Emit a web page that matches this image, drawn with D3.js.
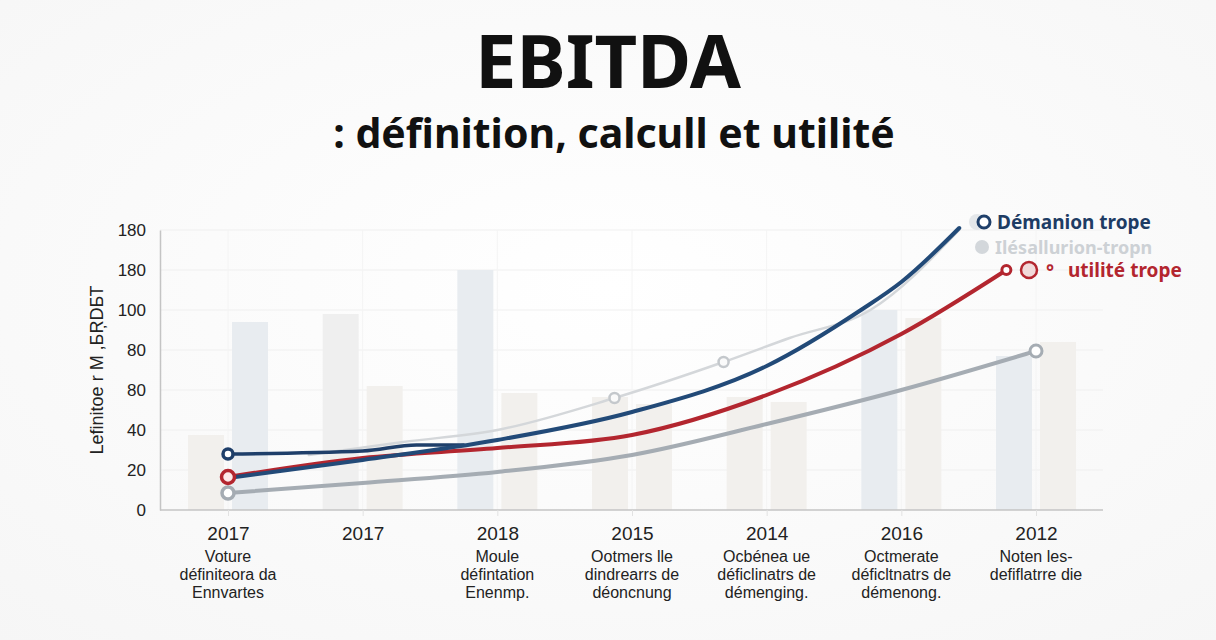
<!DOCTYPE html>
<html>
<head>
<meta charset="utf-8">
<script src="https://cdn.jsdelivr.net/npm/d3@7"></script>
<style>
  html, body { margin: 0; padding: 0; background: #fbfbfb; }
  svg { display: block; }
</style>
</head>
<body>
<script>
// categories along the bottom (index based, some years repeat)
const years = ["2017", "2017", "2018", "2015", "2014", "2016", "2012"];
const notes = [
  ["Voture", "définiteora da", "Ennvartes"],
  [],
  ["Moule", "défintation", "Enenmp."],
  ["Ootmers lle", "dindrearrs de", "déoncnung"],
  ["Ocbénea ue", "déficlinatrs de", "démenging."],
  ["Octmerate", "déficltnatrs de", "démenong."],
  ["Noten les-", "defiflatrre die"]
];

// y ticks as printed on the picture
const yTicks = [0, 20, 40, 60, 80, 100, 120, 140];
const yTickLabels = ["0", "20", "40", "80", "80", "100", "180", "180"];

// faint background bars, two per category
const barLeft = [37.5, 98, 120, 56.5, 56.5, 100, 77];
const barLeftKind = ["warm", "grey", "cool", "warm", "warm", "cool", "cool"];
const barRight = [94, 62, 58.5, 53, 54, 96, 84];
const barRightKind = ["cool", "warm", "warm", "warm", "warm", "warm", "warm"];

// line series: [category index, value]
const navyLine = [[0, 16], [1, 25], [2, 35], [3, 49], [4, 72], [4.7, 100], [5, 114], [5.43, 141]];
const navyStart = [[0, 28], [1, 29.5], [1.4, 32.5], [1.75, 32.5]];
const redLine = [[0, 16.5], [1, 26], [2, 31], [3, 37.5], [4, 57.5], [5, 88], [5.78, 120]];
const greyLine = [[0, 8.5], [1, 13.5], [2, 19], [3, 27.5], [4, 43], [5, 60], [6, 79.5]];
const paleLine = [[0.6, 27.5], [1.3, 34], [2, 40], [2.87, 56], [3.68, 74], [4.17, 86], [4.77, 100], [5.43, 140]];
const paleMarks = [[2.87, 56], [3.68, 74]];

const legendItems = ["Démanion trope", "Ilésallurion-tropn", "utilité trope"];

const W = 1216, H = 640;
const svg = d3.select("body").append("svg")
    .attr("width", W)
    .attr("height", H)

const defs = svg.append("defs")
const bg = defs.append("radialGradient").attr("id", "bg").attr("cx", "50%").attr("cy", "45%").attr("r", "75%")
bg.append("stop").attr("offset", "0%").attr("stop-color", "#ffffff")
bg.append("stop").attr("offset", "100%").attr("stop-color", "#f6f6f6")
svg.append("rect").attr("width", W).attr("height", H).attr("fill", "url(#bg)")

// titles
svg.append("text")
    .text("EBITDA")
    .attr("x", 608).attr("y", 88)
    .attr("text-anchor", "middle")
    .attr("font-family", "'Noto Sans', 'Open Sans', sans-serif")
    .attr("font-weight", "bold")
    .attr("font-size", "74px")
    .attr("fill", "#111")
svg.append("text")
    .text(": définition, calcull et utilité")
    .attr("x", 614).attr("y", 148)
    .attr("text-anchor", "middle")
    .attr("font-family", "'Noto Sans', 'Open Sans', sans-serif")
    .attr("font-weight", "bold")
    .attr("font-size", "41px")
    .attr("fill", "#111")

const x = d3.scaleLinear().domain([0, years.length - 1]).range([228, 1036]);
const y = d3.scaleLinear().domain([0, 140]).range([510, 230]);
const left = 160, right = 1103;

// grid
svg.append("g")
    .selectAll("line")
    .data(yTicks.slice(1))
    .enter()
    .append("line")
    .attr("x1", left).attr("x2", right)
    .attr("y1", d => y(d)).attr("y2", d => y(d))
    .style("stroke", "#f0f0f0")
    .style("stroke-width", 1.2)
svg.append("g")
    .selectAll("line")
    .data(d3.range(years.length))
    .enter()
    .append("line")
    .attr("x1", d => x(d)).attr("x2", d => x(d))
    .attr("y1", y(140)).attr("y2", y(0))
    .style("stroke", "#f4f4f4")
    .style("stroke-width", 1)

// bars
const tone = d3.scaleOrdinal()
    .domain(["cool", "warm", "grey"])
    .range(["#e8ecf0", "#f2f0ed", "#efefef"]);
const barW = 36, gap = 4;
svg.append("g")
    .selectAll("rect")
    .data(barLeft)
    .enter()
    .append("rect")
    .attr("x", (d, i) => x(i) - gap - barW)
    .attr("y", d => y(d))
    .attr("width", barW)
    .attr("height", d => y(0) - y(d))
    .attr("fill", (d, i) => tone(barLeftKind[i]))
svg.append("g")
    .selectAll("rect")
    .data(barRight)
    .enter()
    .append("rect")
    .attr("x", (d, i) => x(i) + gap)
    .attr("y", d => y(d))
    .attr("width", barW)
    .attr("height", d => y(0) - y(d))
    .attr("fill", (d, i) => tone(barRightKind[i]))

// axes
const yAxis = svg.append("g")
    .attr("transform", `translate(${left},0)`)
    .call(d3.axisLeft(y).tickValues(yTicks).tickSize(0).tickPadding(14)
        .tickFormat((d, i) => yTickLabels[i]))
yAxis.select(".domain").style("stroke", "#c4c4c4").style("stroke-width", 1.5)
yAxis.selectAll("text")
    .attr("font-family", "'Liberation Sans', Arial, sans-serif")
    .attr("font-size", "17px")
    .attr("fill", "#222")

const xAxis = svg.append("g")
    .attr("transform", `translate(0,${y(0)})`)
    .call(d3.axisBottom(x).tickValues(d3.range(years.length)).tickSize(6).tickPadding(11)
        .tickFormat(i => years[i]))
xAxis.select(".domain").attr("d", `M${left},0H${right}`).style("stroke", "#c4c4c4").style("stroke-width", 1.5)
xAxis.selectAll(".tick line").style("stroke", "#e2e2e2")
xAxis.selectAll("text")
    .attr("font-family", "'Liberation Sans', Arial, sans-serif")
    .attr("font-size", "19px")
    .attr("fill", "#222")

const noteG = svg.append("g")
notes.forEach(function(lines, i) {
    lines.forEach(function(t, k) {
        noteG.append("text")
            .text(t)
            .attr("x", x(i))
            .attr("y", 562 + k * 18)
            .attr("text-anchor", "middle")
            .attr("font-family", "'Liberation Sans', Arial, sans-serif")
            .attr("font-size", "16px")
            .attr("fill", "#222")
    })
})

svg.append("text")
    .text("Lefinitoe r M ,БŖDБТ")
    .attr("transform", "translate(103,370) rotate(-90)")
    .attr("text-anchor", "middle")
    .attr("font-family", "'Liberation Sans', Arial, sans-serif")
    .attr("font-size", "18px")
    .attr("fill", "#222")

// lines
const line = d3.line()
    .x(d => x(d[0]))
    .y(d => y(d[1]))
    .curve(d3.curveMonotoneX)

function drawLine(data, color, width){
    svg.append("path")
        .datum(data)
        .attr("d", line)
        .attr("fill", "none")
        .style("stroke", color)
        .style("stroke-width", width)
        .style("stroke-linecap", "round")
}
drawLine(paleLine, "#d4d7da", 2.5)
drawLine(greyLine, "#a5acb3", 4)
drawLine(redLine, "#b3262f", 4)
drawLine(navyStart, "#1f3f6a", 3.5)
drawLine(navyLine, "#224a78", 4)

function marker(p, color, r, sw, fill){
    svg.append("circle")
        .attr("cx", x(p[0])).attr("cy", y(p[1]))
        .attr("r", r)
        .attr("fill", fill)
        .style("stroke", color)
        .style("stroke-width", sw)
}
paleMarks.forEach(p => marker(p, "#c4c8cc", 5, 2.5, "#fafafa"))
marker(greyLine[0], "#a5acb3", 6, 3.5, "#fff")
marker(redLine[0], "#b3262f", 6.5, 3.5, "#fde9e9")
marker(navyStart[0], "#1f3f6a", 5, 3.5, "#fff")
marker(greyLine[greyLine.length - 1], "#a5acb3", 6, 3, "#fff")
marker(redLine[redLine.length - 1], "#b3262f", 4.5, 3, "#fff")

// legend
const lg = svg.append("g").attr("font-family", "'Noto Sans', 'Open Sans', sans-serif")
lg.append("circle").attr("cx", 977).attr("cy", 222).attr("r", 8).attr("fill", "#e4e7ea")
lg.append("circle").attr("cx", 984).attr("cy", 222).attr("r", 6).attr("fill", "#fff")
    .style("stroke", "#1f3f6a").style("stroke-width", 3)
lg.append("text").text(legendItems[0])
    .attr("x", 997).attr("y", 229)
    .attr("font-weight", "bold").attr("font-size", "19px").attr("fill", "#1e3c64")
lg.append("circle").attr("cx", 982).attr("cy", 247).attr("r", 7).attr("fill", "#d3d7db")
lg.append("text").text(legendItems[1])
    .attr("x", 995).attr("y", 254)
    .attr("font-weight", "bold").attr("font-size", "18px").attr("fill", "#cdd1d5")
lg.append("circle").attr("cx", 1029).attr("cy", 270).attr("r", 8).attr("fill", "#f1dada")
    .style("stroke", "#b3262f").style("stroke-width", 2.5)
lg.append("text").text("°")
    .attr("x", 1046).attr("y", 279)
    .attr("font-weight", "bold").attr("font-size", "19px").attr("fill", "#b3262f")
lg.append("text").text(legendItems[2])
    .attr("x", 1068).attr("y", 277)
    .attr("font-weight", "bold").attr("font-size", "19px").attr("fill", "#b3262f")
</script>
</body>
</html>
